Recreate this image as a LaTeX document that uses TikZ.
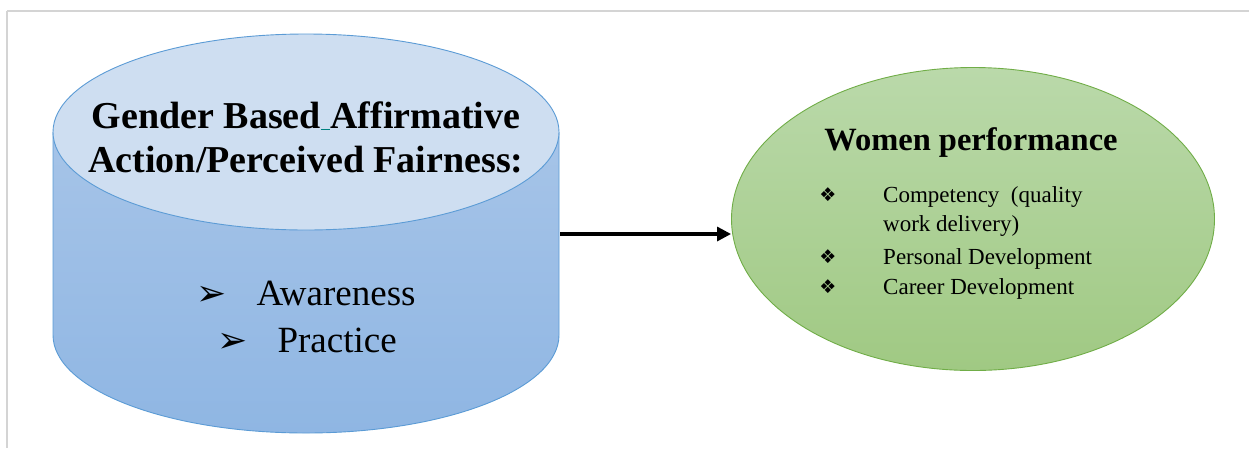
\documentclass[tikz,border=0pt]{standalone}
\usepackage{fontspec}
\setmainfont{Liberation Serif}
\newfontfamily\dejavu{DejaVu Sans}
\usetikzlibrary{shapes.geometric,arrows.meta}
\definecolor{cylTop}{RGB}{206,222,241}
\definecolor{cylBodyA}{RGB}{166,196,232}
\definecolor{cylBodyB}{RGB}{143,182,227}
\definecolor{cylLine}{RGB}{91,155,213}
\definecolor{grnA}{RGB}{186,217,170}
\definecolor{grnB}{RGB}{160,201,131}
\definecolor{grnLine}{RGB}{112,173,71}
\definecolor{frameGray}{RGB}{212,212,212}
\definecolor{ulTeal}{RGB}{0,128,128}
\tikzset{
  cylline/.style={draw=cylLine, line width=0.9pt},
  perfbox/.style={ellipse, draw=grnLine, line width=0.9pt, top color=grnA, bottom color=grnB, minimum width=483pt, minimum height=303pt, inner sep=0pt},
  titletext/.style={anchor=base, inner sep=0pt, font=\bfseries\fontsize{38}{44}\selectfont},
  bigitem/.style={anchor=base, inner sep=0pt, font=\fontsize{37}{44}\selectfont},
  itemtext/.style={anchor=base west, font=\fontsize{23}{26}\selectfont, inner sep=0pt},
  itembullet/.style={anchor=base, font=\dejavu\fontsize{19}{22}\selectfont, inner sep=0pt},
  linkarrow/.style={-{Triangle[length=14pt,width=14pt]}, line width=3.2pt, black}
}
\newcommand{\arrbullet}{{\dejavu\fontsize{36}{40}\selectfont ➢}}
\begin{document}
\begin{tikzpicture}[x=1pt,y=-1pt]
\useasboundingbox (0,0) rectangle (1249,448);
% frame lines
\draw[frameGray, line width=1.2pt] (7,11) -- (1249,11);
\draw[frameGray, line width=1.2pt] (7,11) -- (7,448);
% cylinder body
\shade[top color=cylBodyA, bottom color=cylBodyB]
  (53,132) -- (53,335) arc[start angle=180, end angle=0, x radius=253, y radius=98] -- (559,132) -- cycle;
\draw[cylline] (53,132) -- (53,335) arc[start angle=180, end angle=0, x radius=253, y radius=98] -- (559,132);
% cylinder top
\filldraw[fill=cylTop, cylline] (306,132) ellipse[x radius=253, y radius=98];
% texts on cylinder
\node[titletext] (title1) at (306,128) {Gender Based\textcolor{ulTeal}{\underline{\ }}Affirmative};
\node[titletext] (title2) at (306,172) {Action/Perceived Fairness:};
\node[bigitem] (aware) at (306,305) {\arrbullet\hspace{30pt}Awareness};
\node[bigitem] (pract) at (307,352) {\arrbullet\hspace{30pt}Practice};
\coordinate (cylR) at (560,234);
% green ellipse
\node[perfbox] (perf) at (973,219) {};
\node[anchor=base, inner sep=0pt, font=\bfseries\fontsize{32.5}{38}\selectfont] (ptitle) at (971,150) {Women performance};
\node[itembullet] (b1) at (828,201) {❖};
\node[itemtext] (t1) at (883,202) {Competency\ \ (quality};
\node[itemtext] (t1b) at (883,231) {work delivery)};
\node[itembullet] (b2) at (828,263) {❖};
\node[itemtext] (t2) at (883,264) {Personal Development};
\node[itembullet] (b3) at (828,293) {❖};
\node[itemtext] (t3) at (883,294) {Career Development};
% arrow
\draw[linkarrow] (cylR) -- (cylR -| perf.west);
\end{tikzpicture}
\end{document}
